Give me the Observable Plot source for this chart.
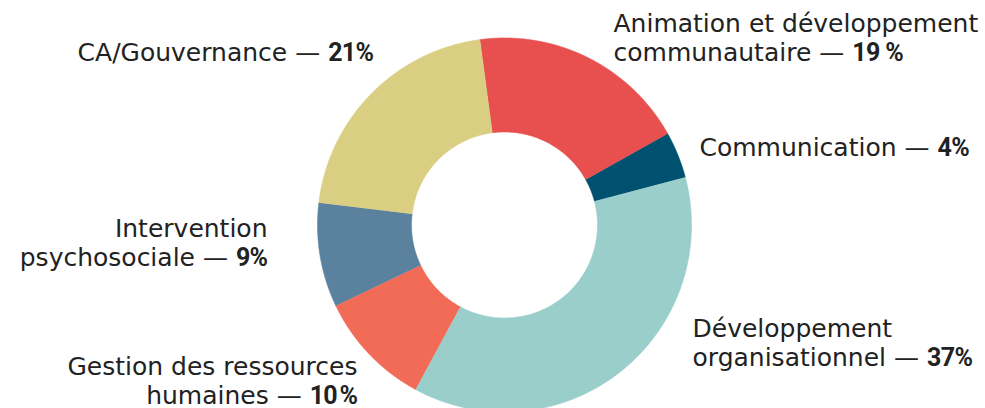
<!DOCTYPE html>
<html>
<head>
<meta charset="utf-8">
<script src="https://cdn.jsdelivr.net/npm/d3@7"></script>
<script src="https://cdn.jsdelivr.net/npm/@observablehq/plot@0.6"></script>
<style>
  html, body { margin: 0; padding: 0; background: #fff; }
  #chart svg { display: block; }
</style>
</head>
<body>
<div id="chart"></div>
<script>
// ---- data ----
const categories = [
  "Animation et développement\ncommunautaire",
  "Communication",
  "Développement\norganisationnel",
  "Gestion des ressources\nhumaines",
  "Intervention\npsychosociale",
  "CA/Gouvernance"
];
const values = [19, 4, 37, 10, 9, 21];
const pctLabels = ["19 %", "4%", "37%", "10\u202F%", "9%", "21%"];
const colors = ["#E84F4F", "#00506F", "#9ACECB", "#F26B57", "#5A819E", "#DACE83"];

// ---- layout ----
const W = 985, H = 408;
const cx = 504, cy = 224.5, R = 187, r = 93;
const startDeg = -7.6;
const labelLayout = [
  {x: 613, y: 60, anchor: "start"},
  {x: 699, y: 155, anchor: "start"},
  {x: 692, y: 365, anchor: "start"},
  {x: 357, y: 403, anchor: "end"},
  {x: 267, y: 265, anchor: "end"},
  {x: 373, y: 60, anchor: "end"}
];

const slices = categories.map((c, i) => ({category: c, value: values[i], pct: pctLabels[i], color: colors[i]}));
const arcs = d3.pie().sort(null).value(d => d.value)
  .startAngle(startDeg * Math.PI / 180)
  .endAngle(startDeg * Math.PI / 180 + 2 * Math.PI)(slices);

const pts = [];
for (const a of arcs) {
  const n = 120;
  for (let k = 0; k <= n; k++) {
    const t = a.startAngle + (a.endAngle - a.startAngle) * k / n;
    pts.push({key: a.data.category, color: a.data.color, x: R * Math.sin(t), y: -R * Math.cos(t)});
  }
  for (let k = n; k >= 0; k--) {
    const t = a.startAngle + (a.endAngle - a.startAngle) * k / n;
    pts.push({key: a.data.category, color: a.data.color, x: r * Math.sin(t), y: -r * Math.cos(t)});
  }
}

const labels = slices.map((s, i) => ({
  text: s.category + " — " + s.pct,
  x: labelLayout[i].x - cx,
  y: labelLayout[i].y - cy,
  anchor: labelLayout[i].anchor
}));

const textOpts = {x: "x", y: "y", text: "text", lineAnchor: "bottom", lineHeight: 1.14, fontSize: 25, fill: "#222"};

const chart = Plot.plot({
  width: W, height: H,
  margin: 0,
  x: {domain: [-cx, W - cx], range: [0, W], axis: null},
  y: {domain: [-cy, H - cy], range: [0, H], axis: null},
  style: {fontFamily: "DejaVu Sans", background: "#fff", overflow: "visible"},
  marks: [
    Plot.line(pts, {x: "x", y: "y", z: "key", fill: "color", stroke: "color", strokeWidth: 0.6, curve: "linear"}),
    Plot.text(labels.filter(d => d.anchor === "start"), {...textOpts, textAnchor: "start"}),
    Plot.text(labels.filter(d => d.anchor === "end"), {...textOpts, textAnchor: "end"})
  ]
});

// bold the percentage part
chart.querySelectorAll('g[aria-label="text"] text').forEach(t => {
  const spans = t.querySelectorAll("tspan");
  const target = spans.length ? spans[spans.length - 1] : t;
  const s = target.textContent;
  const idx = s.indexOf("— ");
  if (idx < 0) return;
  const a = s.slice(0, idx + 2), b = s.slice(idx + 2);
  target.textContent = "";
  const ns = "http://www.w3.org/2000/svg";
  const t1 = document.createElementNS(ns, "tspan"); t1.textContent = a;
  const t2 = document.createElementNS(ns, "tspan"); t2.textContent = b;
  t2.setAttribute("font-weight", "bold");
  t2.setAttribute("font-family", "Roboto, sans-serif");
  t2.setAttribute("font-size", "25");
  t2.setAttribute("letter-spacing", "-0.6");
  target.appendChild(t1); target.appendChild(t2);
});

document.getElementById("chart").appendChild(chart);
</script>
</body>
</html>
